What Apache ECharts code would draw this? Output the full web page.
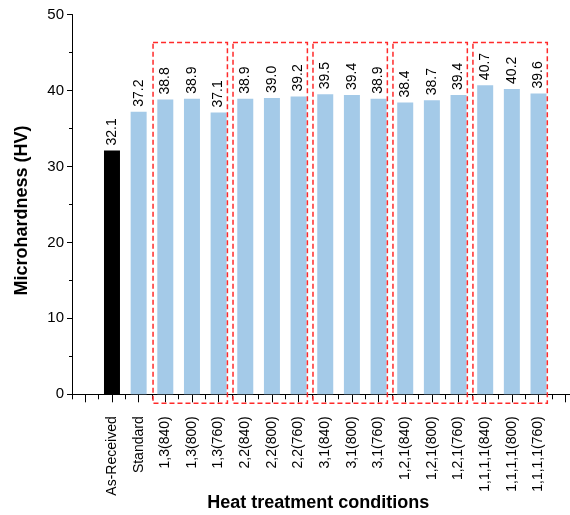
<!DOCTYPE html>
<html>
<head>
<meta charset="utf-8">
<script src="https://cdn.jsdelivr.net/npm/echarts@6/dist/echarts.min.js"></script>
<style>
html,body{margin:0;padding:0;background:#fff;}
#chart{width:570px;height:515px;}
</style>
</head>
<body>
<div id="chart"></div>
<script>
// ---- data ----
const categories = ['As-Received','Standard',
  '1,3(840)','1,3(800)','1,3(760)',
  '2,2(840)','2,2(800)','2,2(760)',
  '3,1(840)','3,1(800)','3,1(760)',
  '1,2,1(840)','1,2,1(800)','1,2,1(760)',
  '1,1,1,1(840)','1,1,1,1(800)','1,1,1,1(760)'];
const hardness = [32.1, 37.2, 38.8, 38.9, 37.1, 38.9, 39.0, 39.2, 39.5, 39.4, 38.9, 38.4, 38.7, 39.4, 40.7, 40.2, 39.6];
const groupFirst = ['1,3(840)','2,2(840)','3,1(840)','1,2,1(840)','1,1,1,1(840)'];
const groupLast  = ['1,3(760)','2,2(760)','3,1(760)','1,2,1(760)','1,1,1,1(760)'];
const yTicks = [0, 10, 20, 30, 40, 50];

// ---- build ----
const axisCats = [''].concat(categories, ['']);
const barData = [null].concat(hardness.map((v, i) => ({
  value: v,
  itemStyle: { color: categories[i] === 'As-Received' ? '#000000' : '#A4CAE8' }
})), [null]);
const boxTop = 46.3;
const boxData = groupFirst.map((f, i) => [axisCats.indexOf(f), axisCats.indexOf(groupLast[i]), boxTop]);

const FONT = '"Liberation Sans", Arial, sans-serif';
const chart = echarts.init(document.getElementById('chart'), null, { renderer: 'canvas' });
chart.setOption({
  animation: false,
  backgroundColor: '#fff',
  grid: { left: 72, top: 14.5, right: -8.5, bottom: 120.7, containLabel: false, outerBoundsMode: 'none' },
  xAxis: [{
    type: 'category',
    data: axisCats,
    axisLine: { show: true, lineStyle: { color: '#000', width: 1 } },
    axisTick: { show: true, alignWithLabel: true, length: 8, interval: 0, lineStyle: { color: '#000' } },
    axisLabel: { interval: 0, rotate: 90, margin: 22, fontSize: 14, color: '#000', fontFamily: FONT },
    name: 'Heat treatment conditions',
    nameLocation: 'middle',
    nameGap: 100,
    nameMoveOverlap: false,
    nameTextStyle: { fontSize: 18, fontWeight: 'bold', color: '#000', fontFamily: FONT, padding: [0, 14, 0, 0] },
    splitLine: { show: false }
  }, {
    type: 'category',
    data: axisCats,
    position: 'bottom',
    axisLine: { show: false },
    axisTick: { show: true, length: 5, interval: 0, lineStyle: { color: '#000' } },
    axisLabel: { show: false },
    splitLine: { show: false }
  }],
  yAxis: {
    type: 'value',
    min: yTicks[0], max: yTicks[yTicks.length - 1], interval: 10,
    axisLine: { show: true, lineStyle: { color: '#000', width: 1 } },
    axisTick: { show: true, length: 5, lineStyle: { color: '#000' } },
    minorTick: { show: true, splitNumber: 2, length: 3, lineStyle: { color: '#000' } },
    splitLine: { show: false },
    axisLabel: { fontSize: 15, color: '#000', margin: 8, fontFamily: FONT },
    name: 'Microhardness (HV)',
    nameLocation: 'middle',
    nameRotate: 90,
    nameGap: 41,
    nameMoveOverlap: false,
    nameTextStyle: { fontSize: 18, fontWeight: 'bold', color: '#000', fontFamily: FONT, padding: [0, 12, 0, 0] }
  },
  series: [{
    type: 'bar',
    xAxisIndex: 0,
    data: barData,
    barWidth: '60%',
    label: {
      show: true, position: 'top', rotate: 90, distance: 5,
      align: 'left', verticalAlign: 'middle',
      fontSize: 14, color: '#000', fontFamily: FONT,
      formatter: p => p.value.toFixed(1)
    }
  }, {
    type: 'custom',
    xAxisIndex: 0,
    data: boxData,
    encode: { x: [0, 1], y: 2 },
    z: 5,
    clip: false,
    silent: true,
    renderItem: function (params, api) {
      const p1 = api.coord([api.value(0), api.value(2)]);
      const p2 = api.coord([api.value(1), 0]);
      const band = api.size([1, 0])[0];
      const x1 = p1[0] - 0.46 * band;
      const x2 = p2[0] + 0.33 * band;
      const y1 = p1[1];
      const y2 = p2[1] + 9;
      return {
        type: 'rect',
        shape: { x: x1, y: y1, width: x2 - x1, height: y2 - y1 },
        style: { fill: 'none', stroke: '#FF2A2A', lineWidth: 1.5, lineDash: [5, 3] }
      };
    }
  }]
});
</script>
</body>
</html>
